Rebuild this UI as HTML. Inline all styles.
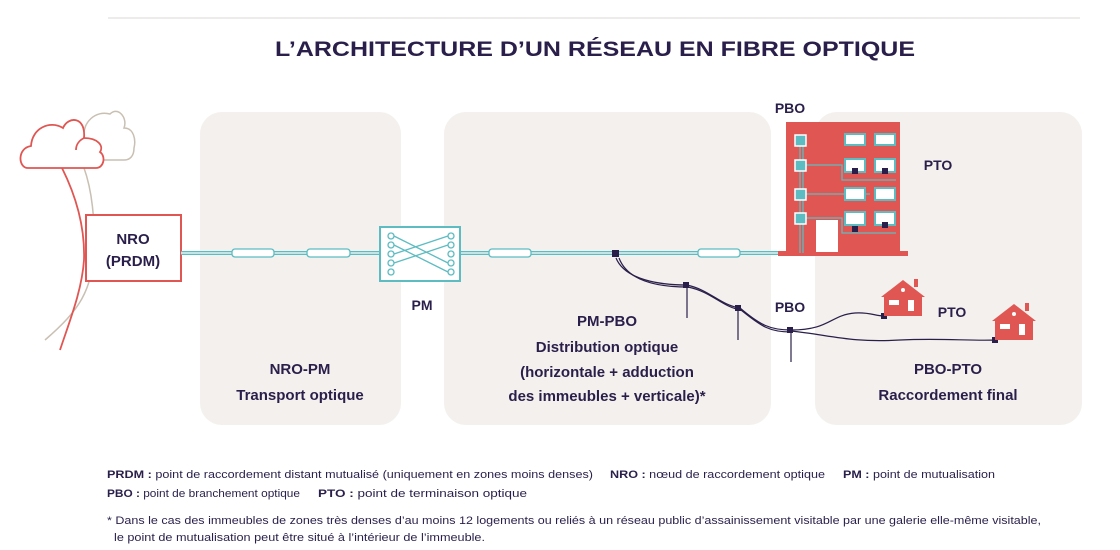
<!DOCTYPE html>
<html><head><meta charset="utf-8"><style>
html,body{margin:0;padding:0;background:#fff;}
svg{display:block;font-family:"Liberation Sans",sans-serif;}
.b{font-weight:bold;fill:#2a1f4a;}
.s{font-size:11px;fill:#2a1f4a;}
</style></head><body>
<svg width="1120" height="550" viewBox="0 0 1120 550">
<line x1="108" y1="18" x2="1080" y2="18" stroke="#e8e6e4" stroke-width="1.5"/>
<text x="595" y="56" text-anchor="middle" class="b" font-size="21" textLength="640" lengthAdjust="spacingAndGlyphs">L’ARCHITECTURE D’UN RÉSEAU EN FIBRE OPTIQUE</text>
<!-- panels -->
<rect x="200" y="112" width="201" height="313" rx="22" fill="#f3f0ed"/>
<rect x="444" y="112" width="327" height="313" rx="22" fill="#f3f0ed"/>
<rect x="815" y="112" width="267" height="313" rx="22" fill="#f3f0ed"/>
<!-- clouds -->
<path d="M82 160 C72 158 72 140 84 138 C82 122 96 110 110 114 C118 106 128 118 124 128 C134 128 136 140 134 148 C134 156 130 160 124 160 Z" fill="none" stroke="#c9bfb2" stroke-width="1.5"/>
<path d="M84 168 C92 190 95 220 94 250 C92 290 80 310 45 340" fill="none" stroke="#c9bfb2" stroke-width="1.5"/>
<path d="M62 168 C78 200 85 230 84 260 C82 290 70 320 60 350" fill="none" stroke="#e05652" stroke-width="1.8"/>
<path d="M28 168 C18 168 17 148 31 146 C32 128 50 120 63 128 C68 116 86 116 84 138 C98 138 104 146 100 152 C106 156 104 168 96 168 Z" fill="#fff" stroke="#e05652" stroke-width="1.8"/>
<path d="M84 138 C80 140 76 144 76 150" fill="none" stroke="#e05652" stroke-width="1.8"/>
<!-- NRO box -->
<rect x="86" y="215" width="95" height="66" fill="#fff" stroke="#e05652" stroke-width="2"/>
<text x="133" y="244" text-anchor="middle" class="b" font-size="15">NRO</text>
<text x="133" y="266" text-anchor="middle" class="b" font-size="15">(PRDM)</text>
<!-- fiber -->
<line x1="181" y1="253" x2="800" y2="253" stroke="#5cbcc2" stroke-width="4"/>
<line x1="181" y1="253" x2="800" y2="253" stroke="#fff" stroke-width="1.2"/>
<g fill="#fff" stroke="#5cbcc2" stroke-width="1.3">
<rect x="232" y="249" width="42" height="8" rx="3"/>
<rect x="307" y="249" width="43" height="8" rx="3"/>
<rect x="489" y="249" width="42" height="8" rx="3"/>
<rect x="698" y="249" width="42" height="8" rx="3"/>
</g>
<!-- PM -->
<rect x="380" y="227" width="80" height="54" fill="#fff" stroke="#5cbcc2" stroke-width="2"/>
<g fill="none" stroke="#5cbcc2" stroke-width="1.3">
<circle cx="391" cy="236" r="3"/><circle cx="391" cy="245" r="3"/><circle cx="391" cy="254" r="3"/><circle cx="391" cy="263" r="3"/><circle cx="391" cy="272" r="3"/>
<circle cx="451" cy="236" r="3"/><circle cx="451" cy="245" r="3"/><circle cx="451" cy="254" r="3"/><circle cx="451" cy="263" r="3"/><circle cx="451" cy="272" r="3"/>
<line x1="394" y1="236" x2="448" y2="263"/><line x1="394" y1="254" x2="448" y2="236"/><line x1="394" y1="263" x2="448" y2="245"/><line x1="394" y1="245" x2="448" y2="272"/>
</g>
<text x="422" y="310" text-anchor="middle" class="b" font-size="14">PM</text>
<!-- building -->
<rect x="786" y="122" width="114" height="130" fill="#e05652"/>
<rect x="778" y="251" width="130" height="5" fill="#e05652"/>
<rect x="816" y="220" width="22" height="32" fill="#fff"/>
<g fill="none" stroke="#5cbcc2" stroke-width="1.3">
<line x1="800" y1="140" x2="800" y2="253"/><line x1="803" y1="140" x2="803" y2="253"/>
<polyline points="803,165 842,165 842,180 896,180"/>
<line x1="803" y1="194" x2="870" y2="194"/>
<polyline points="803,218 842,218 842,233 896,233"/>
</g>
<g fill="#5cbcc2" stroke="#fff" stroke-width="1.5">
<rect x="795" y="135" width="11" height="11"/><rect x="795" y="160" width="11" height="11"/><rect x="795" y="189" width="11" height="11"/><rect x="795" y="213" width="11" height="11"/>
</g>
<g fill="#fff" stroke="#5cbcc2" stroke-width="2">
<rect x="845" y="134" width="20" height="11"/><rect x="875" y="134" width="20" height="11"/>
<rect x="845" y="159" width="20" height="13"/><rect x="875" y="159" width="20" height="13"/>
<rect x="845" y="188" width="20" height="12"/><rect x="875" y="188" width="20" height="12"/>
<rect x="845" y="212" width="20" height="13"/><rect x="875" y="212" width="20" height="13"/>
</g>
<g fill="#2a1f4a"><rect x="852" y="168" width="6" height="6"/><rect x="882" y="168" width="6" height="6"/><rect x="852" y="226" width="6" height="6"/><rect x="882" y="222" width="6" height="6"/></g>
<text x="790" y="113" text-anchor="middle" class="b" font-size="14">PBO</text>
<text x="938" y="170" text-anchor="middle" class="b" font-size="14">PTO</text>
<!-- aerial cables -->
<g fill="none" stroke="#2a1f4a" stroke-width="1.2">
<path d="M616 258 C625 280 660 285 687 285 C710 290 720 305 740 308 C760 325 770 330 791 330"/>
<path d="M619 258 C628 282 660 287 688 287 C712 292 722 307 741 310 C762 327 770 332 791 332"/>
<path d="M791 330 C830 330 830 315 855 313 C870 312 875 316 884 316"/>
<path d="M791 331 C830 335 850 343 900 340 C940 338 970 341 995 340"/>
<line x1="687" y1="285" x2="687" y2="318"/><line x1="738" y1="308" x2="738" y2="340"/><line x1="791" y1="330" x2="791" y2="362"/>
</g>
<g fill="#2a1f4a"><rect x="612" y="250" width="7" height="7"/><rect x="683" y="282" width="6" height="6"/><rect x="735" y="305" width="6" height="6"/><rect x="787" y="327" width="6" height="6"/><rect x="881" y="313" width="6" height="6"/><rect x="992" y="337" width="6" height="6"/></g>
<text x="790" y="312" text-anchor="middle" class="b" font-size="14">PBO</text>
<text x="952" y="317" text-anchor="middle" class="b" font-size="14">PTO</text>
<!-- houses -->
<g fill="#e05652">
<path d="M881 297 L903 280 L925 297 L922 297 L922 316 L884 316 L884 297 Z"/>
<rect x="914" y="279" width="4" height="8"/>
<path d="M992 321 L1014 304 L1036 321 L1033 321 L1033 340 L995 340 L995 321 Z"/>
<rect x="1025" y="303" width="4" height="8"/>
</g>
<g fill="#fff"><rect x="889" y="300" width="10" height="5"/><rect x="908" y="300" width="6" height="11"/><circle cx="903" cy="290" r="2"/>
<rect x="1000" y="324" width="10" height="5"/><rect x="1019" y="324" width="6" height="11"/><circle cx="1014" cy="314" r="2"/></g>
<!-- panel labels -->
<g class="b" font-size="15" text-anchor="middle">
<text x="300" y="374">NRO-PM</text>
<text x="300" y="400">Transport optique</text>
<text x="607" y="326">PM-PBO</text>
<text x="607" y="352">Distribution optique</text>
<text x="607" y="377">(horizontale + adduction</text>
<text x="607" y="401">des immeubles + verticale)*</text>
<text x="948" y="374">PBO-PTO</text>
<text x="948" y="400">Raccordement final</text>
</g>
<!-- legend -->
<text x="107" y="478" class="s" textLength="486" lengthAdjust="spacingAndGlyphs"><tspan font-weight="bold">PRDM :</tspan> point de raccordement distant mutualisé (uniquement en zones moins denses)</text>
<text x="610" y="478" class="s" textLength="215" lengthAdjust="spacingAndGlyphs"><tspan font-weight="bold">NRO :</tspan> nœud de raccordement optique</text>
<text x="843" y="478" class="s" textLength="152" lengthAdjust="spacingAndGlyphs"><tspan font-weight="bold">PM :</tspan> point de mutualisation</text>
<text x="107" y="497" class="s" textLength="193" lengthAdjust="spacingAndGlyphs"><tspan font-weight="bold">PBO :</tspan> point de branchement optique</text>
<text x="318" y="497" class="s" textLength="209" lengthAdjust="spacingAndGlyphs"><tspan font-weight="bold">PTO :</tspan> point de terminaison optique</text>
<text x="107" y="524" class="s" textLength="934" lengthAdjust="spacingAndGlyphs">* Dans le cas des immeubles de zones très denses d’au moins 12 logements ou reliés à un réseau public d’assainissement visitable par une galerie elle-même visitable,</text>
<text x="114" y="541" class="s" textLength="371" lengthAdjust="spacingAndGlyphs">le point de mutualisation peut être situé à l’intérieur de l’immeuble.</text>
</svg>
</body></html>
